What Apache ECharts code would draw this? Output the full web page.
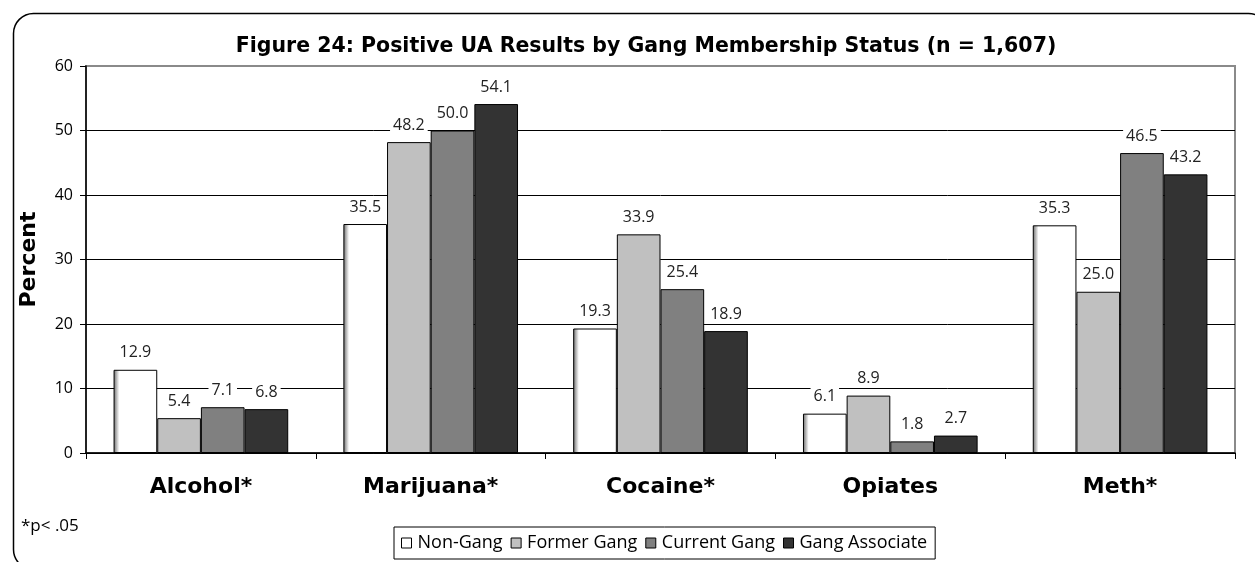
<!DOCTYPE html>
<html>
<head>
<meta charset="utf-8">
<script src="https://cdn.jsdelivr.net/npm/echarts@6/dist/echarts.min.js"></script>
<style>html,body{margin:0;padding:0;background:#fff;}#c{width:1255px;height:562px;}</style>
</head>
<body>
<div id="c"></div>
<script>
const categories = ['Alcohol*', 'Marijuana*', 'Cocaine*', 'Opiates', 'Meth*'];
const seriesNames = ['Non-Gang', 'Former Gang', 'Current Gang', 'Gang Associate'];
const nonGang = [12.9, 35.5, 19.3, 6.1, 35.3];
const formerGang = [5.4, 48.2, 33.9, 8.9, 25.0];
const currentGang = [7.1, 50.0, 25.4, 1.8, 46.5];
const gangAssociate = [6.8, 54.1, 18.9, 2.7, 43.2];
const yTicks = [0, 10, 20, 30, 40, 50, 60];

const FONT = '"Open Sans", "Noto Sans", sans-serif';
const BFONT = '"DejaVu Sans", sans-serif';
const colors = [
  {type:'linear', x:0, y:0, x2:1, y2:0, colorStops:[{offset:0,color:'#6a6a6a'},{offset:0.13,color:'#ffffff'},{offset:1,color:'#ffffff'}]},
  '#c0c0c0', '#808080', '#333333'
];
const legendColors = ['#ffffff', '#c0c0c0', '#808080', '#333333'];
const allData = [nonGang, formerGang, currentGang, gangAssociate];

const chart = echarts.init(document.getElementById('c'));
chart.setOption({
  animation: false,
  backgroundColor: '#fff',
  title: {
    text: 'Figure 24: Positive UA Results by Gang Membership Status (n = 1,607)',
    left: 641, top: 31, textAlign: 'center',
    textStyle: {fontFamily: BFONT, fontWeight: 'bold', fontSize: 20.5, color: '#000'}
  },
  graphic: [
    {type:'rect', left:11, top:11, shape:{x:0,y:0,width:1255,height:556,r:20}, style:{fill:'none', stroke:'#000', lineWidth:1.5}, silent:true, z:-1},
    {type:'text', left:21, top:518, style:{text:'*p< .05', font:'17px ' + FONT, fill:'#000'}}
  ],
  legend: {
    data: seriesNames.map((n,i)=>({name:n, itemStyle:{color:legendColors[i], borderColor:'#000', borderWidth:1}})),
    left: 394, top: 527,
    itemWidth: 10, itemHeight: 10, itemGap: 8,
    icon: 'rect',
    borderColor: '#000', borderWidth: 1,
    padding: [7, 8, 7, 7],
    textStyle: {fontFamily: FONT, fontSize: 18, color: '#000', padding:[0,0,0,1]}
  },
  grid: {left: 86, right: 20, top: 66, bottom: 109, show: true, borderColor: '#8a8a8a', borderWidth: 2, backgroundColor: 'transparent'},
  xAxis: {
    type: 'category', data: categories,
    axisLine: {lineStyle: {color: '#000', width: 1.5}},
    axisTick: {show: true, length: 6, lineStyle: {color: '#000'}},
    axisLabel: {fontFamily: BFONT, fontWeight: 'bold', fontSize: 22, color: '#000', margin: 23}
  },
  yAxis: {
    type: 'value', min: yTicks[0], max: yTicks[yTicks.length-1], interval: 10,
    name: 'Percent', nameLocation: 'middle', nameGap: 46,
    nameTextStyle: {fontFamily: BFONT, fontWeight: 'bold', fontSize: 22, color: '#000'},
    axisLine: {show: true, lineStyle: {color: '#000', width: 1.5}},
    axisTick: {show: true, length: 6, lineStyle: {color: '#000'}},
    axisLabel: {fontFamily: FONT, fontSize: 16, color: '#000', margin: 13},
    splitLine: {show: true, lineStyle: {color: ['#000','#000','#000','#000','#000','#000','#8a8a8a'], width: 1}}
  },
  series: allData.map((d,i)=>({
    name: seriesNames[i], type: 'bar', data: d,
    barGap: '0%', barCategoryGap: '24%',
    itemStyle: {color: colors[i], borderColor: '#000', borderWidth: 1},
    label: {
      show: true, position: 'top', distance: 8,
      formatter: p => p.value.toFixed(1),
      fontFamily: FONT, fontSize: 16, color: '#222',
      backgroundColor: '#fff', padding: [1, 3]
    }
  }))
});
</script>
</body>
</html>
